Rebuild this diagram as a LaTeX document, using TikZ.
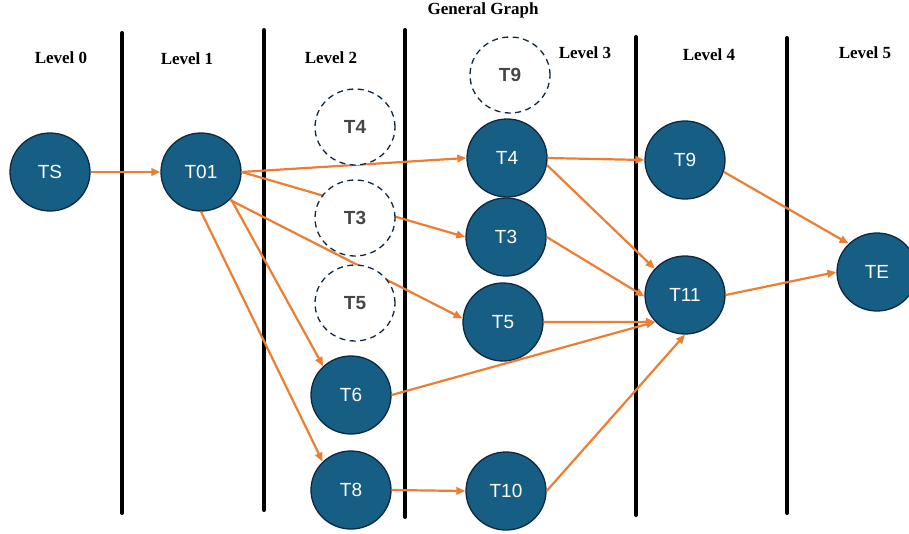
\documentclass[tikz,border=0pt]{standalone}
\usepackage{fontspec}
\setmainfont{Liberation Serif}
\setsansfont{Liberation Sans}
\usetikzlibrary{shapes.geometric,arrows.meta}
\definecolor{nodefill}{RGB}{22,94,131}
\definecolor{nodeline}{RGB}{14,40,65}
\definecolor{edgeor}{RGB}{237,125,49}
\definecolor{ghosttext}{RGB}{70,70,70}
\begin{document}
\begin{tikzpicture}[x=1pt,y=-1pt,
  task/.style={ellipse, minimum width=80pt, minimum height=78pt, inner sep=0pt, fill=nodefill, draw=nodeline, line width=1.3pt, text=white, font=\sffamily\fontsize{19}{19}\selectfont},
  ghost/.style={ellipse, minimum width=80pt, minimum height=76pt, inner sep=0pt, fill=white, draw=nodeline, line width=1.3pt, dash pattern=on 6pt off 4.5pt, text=ghosttext, font=\sffamily\bfseries\fontsize{19}{19}\selectfont},
  sep/.style={line width=4pt, line cap=round, black},
  edge/.style={draw=edgeor, line width=2.2pt, -{Triangle[length=9pt,width=7.5pt]}},
  lvl/.style={font=\bfseries\fontsize{17}{17}\selectfont, inner sep=0pt},
]
\useasboundingbox (0,0) rectangle (909,533);

% separators
\coordinate (s1a) at (122,33);  \coordinate (s1b) at (122,513);
\coordinate (s2a) at (264,30);  \coordinate (s2b) at (264,510);
\coordinate (s3a) at (405,30);  \coordinate (s3b) at (405,517);
\coordinate (s4a) at (636,37);  \coordinate (s4b) at (636,515);
\coordinate (s5a) at (787,38);  \coordinate (s5b) at (787,513);
\draw[sep] (s1a) -- (s1b);
\draw[sep] (s2a) -- (s2b);
\draw[sep] (s3a) -- (s3b);
\draw[sep] (s4a) -- (s4b);
\draw[sep] (s5a) -- (s5b);

% labels
\node[lvl] (title) at (483,10) {General Graph};
\node[lvl] (l0) at (61,58) {Level 0};
\node[lvl] (l1) at (187,59) {Level 1};
\node[lvl] (l2) at (331,58) {Level 2};
\node[lvl] (l3) at (585,53) {Level 3};
\node[lvl] (l4) at (709,55) {Level 4};
\node[lvl] (l5) at (865,53) {Level 5};

% task nodes
\node[task] (TS)  at (50,172) {TS};
\node[task] (T01) at (201,172) {T01};
\node[task] (T6)  at (351,395) {T6};
\node[task] (T8)  at (351,490) {T8};
\node[task] (T4)  at (507,158) {T4};
\node[task] (T3)  at (506,237) {T3};
\node[task] (T5)  at (503,322) {T5};
\node[task] (T10) at (506,491) {T10};
\node[task] (T9)  at (685,160) {T9};
\node[task] (T11) at (685,295) {T11};
\node[task] (TE)  at (877,272) {TE};

% edges
\draw[edge] (TS.east) -- (T01.west);
\draw[edge] (T01.east) -- (T4.west);
\draw[edge] (T01.east) -- (T3.west);
\draw[edge] (T01.-44) -- (T5.175);
\draw[edge] (T01.-42) -- (T6.134);
\draw[edge] (T01.south) -- (T8.135);
\draw[edge] (T8.east) -- (T10.west);
\draw[edge] (T4.east) -- (T9.west);
\draw[edge] (T4.-10) -- (T11.139);
\draw[edge] (T3.east) -- (T11.182);
\draw[edge] (T5.east) -- (T11.222);
\draw[edge] (T6.east) -- (T11.222);
\draw[edge] (T10.east) -- (T11.south);
\draw[edge] (T9.-17) -- (TE.135);
\draw[edge] (T11.east) -- (TE.west);

% ghost nodes
\node[ghost] (g4) at (355,127) {T4};
\node[ghost] (g3) at (355,218) {T3};
\node[ghost] (g5) at (355,303) {T5};
\node[ghost] (g9) at (510,75) {T9};
\end{tikzpicture}
\end{document}
